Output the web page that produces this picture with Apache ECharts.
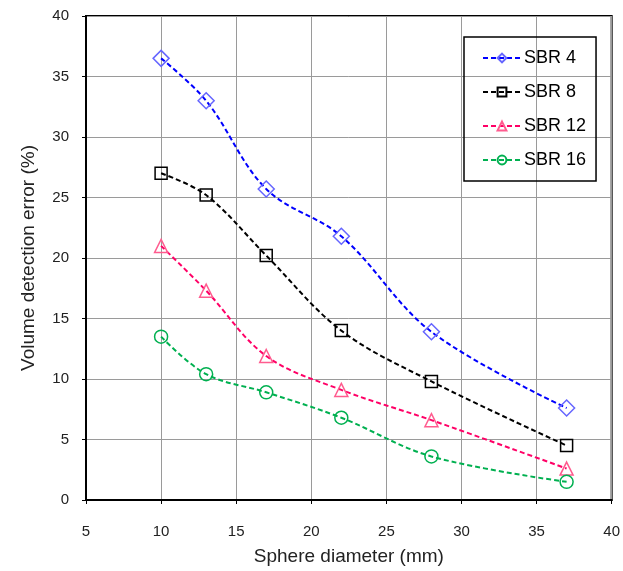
<!DOCTYPE html>
<html>
<head>
<meta charset="utf-8">
<script src="https://cdn.jsdelivr.net/npm/echarts@6/dist/echarts.min.js"></script>
<style>
  html, body { margin: 0; padding: 0; background: #fff; }
  #chart { width: 623px; height: 571px; }
</style>
</head>
<body>
<div id="chart"></div>
<script>
// Sphere diameters (mm) on the x axis
const diameters = [10, 13, 17, 22, 28, 37];

// Volume detection error (%) per source-to-background ratio
const sbr4  = [36.5, 33.0, 25.7, 21.8, 13.9, 7.6];
const sbr8  = [27.0, 25.2, 20.2, 14.0, 9.8, 4.5];
const sbr12 = [21.0, 17.3, 11.9, 9.1, 6.6, 2.6];
const sbr16 = [13.5, 10.4, 8.9, 6.8, 3.6, 1.5];

const seriesNames = ['SBR 4', 'SBR 8', 'SBR 12', 'SBR 16'];

const FONT = '"Liberation Sans", Arial, sans-serif';

function pairs(values) {
  return diameters.map((d, i) => [d, values[i]]);
}

function makeSeries(name, values, lineColor, markColor, symbol, size) {
  return {
    name: name,
    type: 'line',
    data: pairs(values),
    smooth: 0.35,
    symbol: symbol,
    symbolSize: size,
    lineStyle: { color: lineColor, width: 2, type: [5, 3] },
    itemStyle: { color: 'rgba(0,0,0,0)', borderColor: markColor, borderWidth: 1.5 },
    emphasis: { disabled: true },
    z: 3
  };
}

const chart = echarts.init(document.getElementById('chart'), null, { renderer: 'canvas' });

chart.setOption({
  animation: false,
  backgroundColor: '#fff',
  textStyle: { fontFamily: FONT },
  grid: {
    left: 86, top: 16, right: 10, bottom: 71,
    show: true, borderColor: '#000', borderWidth: 2, backgroundColor: 'transparent'
  },
  legend: {
    data: seriesNames,
    orient: 'vertical',
    left: 464, top: 37,
    width: 142,
    padding: [12, 10, 12, 18],
    itemGap: 16,
    itemWidth: 38,
    itemHeight: 11,
    borderColor: '#000',
    borderWidth: 1.5,
    textStyle: { fontFamily: FONT, fontSize: 18, color: '#000', padding: [0, 0, 0, -2] }
  },
  xAxis: {
    type: 'value',
    min: 5, max: 40, interval: 5,
    name: 'Sphere diameter (mm)',
    nameLocation: 'middle',
    nameGap: 47,
    nameTextStyle: { fontFamily: FONT, fontSize: 19, color: '#222' },
    axisLine: { show: true, lineStyle: { color: '#000', width: 2 } },
    axisTick: { show: true, length: 4, lineStyle: { color: '#000', width: 1 } },
    axisLabel: { margin: 24, fontFamily: FONT, fontSize: 15, color: '#222' },
    splitLine: { show: true, lineStyle: { color: '#9a9a9a', width: 1 } }
  },
  yAxis: {
    type: 'value',
    min: 0, max: 40, interval: 5,
    name: 'Volume detection error (%)',
    nameLocation: 'middle',
    nameGap: 48,
    nameTextStyle: { fontFamily: FONT, fontSize: 19, color: '#222' },
    axisLine: { show: true, lineStyle: { color: '#000', width: 2 } },
    axisTick: { show: true, length: 4, lineStyle: { color: '#000', width: 1 } },
    axisLabel: { margin: 17, fontFamily: FONT, fontSize: 15, color: '#222' },
    splitLine: { show: true, lineStyle: { color: '#9a9a9a', width: 1 } }
  },
  series: [
    makeSeries(seriesNames[0], sbr4,  '#0000ff', '#6666ff', 'diamond', 16),
    makeSeries(seriesNames[1], sbr8,  '#000000', '#000000', 'rect', 12),
    makeSeries(seriesNames[2], sbr12, '#ff0066', '#ff5c8f', 'triangle', 13),
    makeSeries(seriesNames[3], sbr16, '#00b050', '#00b050', 'circle', 13)
  ]
});
</script>
</body>
</html>
